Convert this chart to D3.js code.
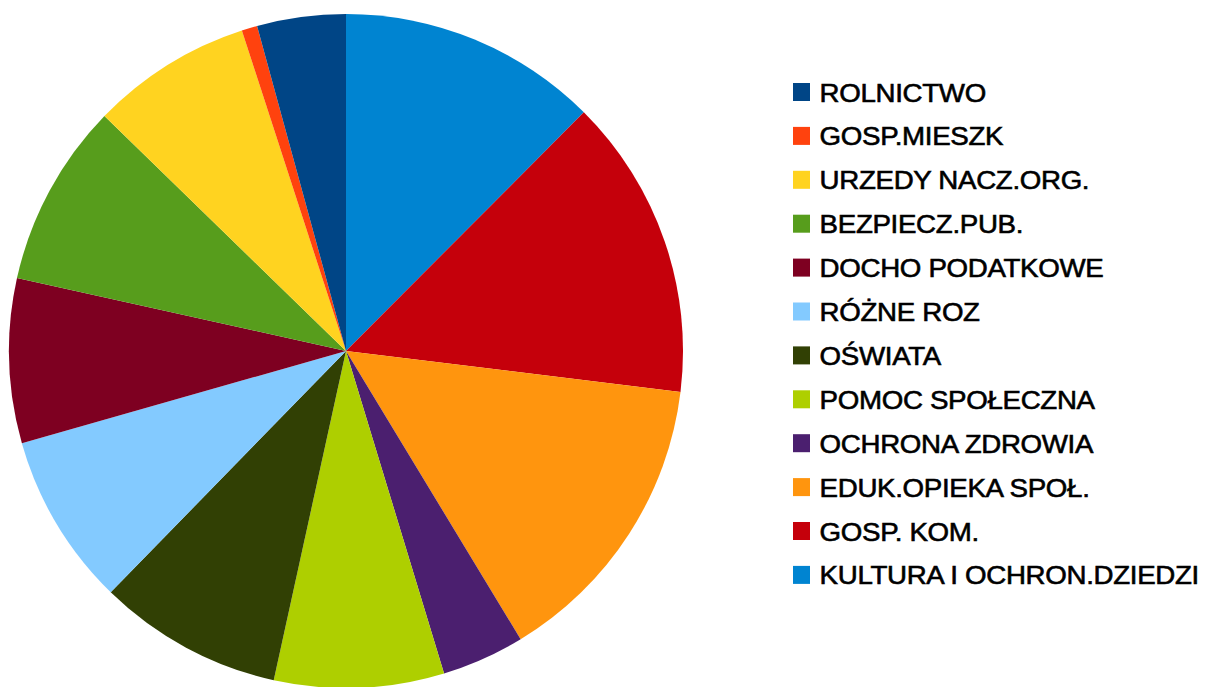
<!DOCTYPE html>
<html>
<head>
<meta charset="utf-8">
<script src="https://cdn.jsdelivr.net/npm/d3@7"></script>
<style>
html,body{margin:0;padding:0;background:#fff;}
svg{display:block;}
</style>
</head>
<body>
<svg id="chart" width="1209" height="687"></svg>
<script>
// Slices in drawing order (clockwise from 12 o'clock)
const categories = ["KULTURA I OCHRON.DZIEDZI","GOSP. KOM.","EDUK.OPIEKA SPOŁ.","OCHRONA ZDROWIA","POMOC SPOŁECZNA","OŚWIATA","RÓŻNE ROZ","DOCHO PODATKOWE","BEZPIECZ.PUB.","URZEDY NACZ.ORG.","GOSP.MIESZK","ROLNICTWO"];
const values = [12.47, 14.47, 14.39, 3.97, 8.14, 8.86, 8.29, 7.88, 8.81, 7.72, 0.75, 4.25];
const colors = ["#0084d1","#c5000b","#ff950e","#4b1f6f","#aecf00","#314004","#83caff","#7e0021","#579d1c","#ffd320","#ff420e","#004586"];
// Legend order (top to bottom)
const legendOrder = ["ROLNICTWO","GOSP.MIESZK","URZEDY NACZ.ORG.","BEZPIECZ.PUB.","DOCHO PODATKOWE","RÓŻNE ROZ","OŚWIATA","POMOC SPOŁECZNA","OCHRONA ZDROWIA","EDUK.OPIEKA SPOŁ.","GOSP. KOM.","KULTURA I OCHRON.DZIEDZI"];

const svg = d3.select("#chart");
const cx = 346, cy = 351, r = 337;
const color = d3.scaleOrdinal().domain(categories).range(colors);
const data = categories.map((c,i)=>({name:c, value:values[i]}));
const pie = d3.pie().value(d=>d.value).sort(null);
const arc = d3.arc().innerRadius(0).outerRadius(r);

svg.append("g").attr("transform",`translate(${cx},${cy})`)
  .selectAll("path").data(pie(data)).join("path")
  .attr("d", arc)
  .attr("fill", d=>color(d.data.name));

const y = d3.scalePoint().domain(legendOrder).range([83, 83+11*43.9]);
const lg = svg.append("g");
const items = lg.selectAll("g").data(legendOrder).join("g")
  .attr("transform", d=>`translate(793,${y(d)})`);
items.append("rect").attr("width",17).attr("height",18).attr("fill", d=>color(d));
items.append("text").attr("x",25).attr("y",18.5)
  .attr("font-family","'Liberation Sans', Arial, sans-serif")
  .attr("font-size",26).attr("fill","#000")
  .attr("stroke","#000").attr("stroke-width",0.6)
  .attr("letter-spacing","-0.3")
  .attr("transform","scale(1.065,1)")
  .text(d=>d);
</script>
</body>
</html>
